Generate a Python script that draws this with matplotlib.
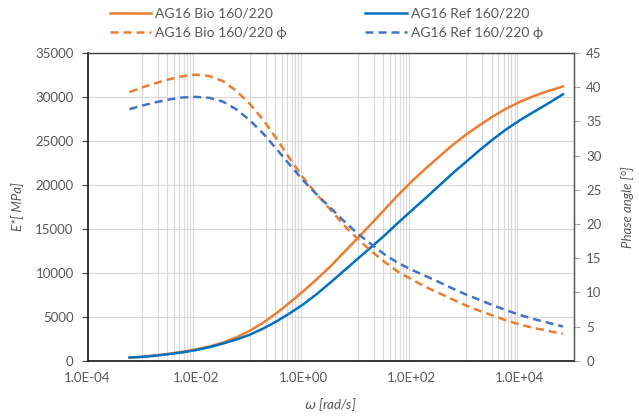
import numpy as np
import matplotlib
matplotlib.use('Agg')
import matplotlib.pyplot as plt
import matplotlib.ticker as ticker

plt.rcParams['font.family'] = ['Lato', 'DejaVu Sans']
plt.rcParams['font.size'] = 9.5

# angular frequency [rad/s]
omega = [6.0e-4, 1.0e-3, 1.8e-3, 3.2e-3, 5.6e-3,
         1.0e-2, 1.8e-2, 3.2e-2, 5.6e-2,
         0.1, 0.18, 0.32, 0.56,
         1.0, 1.8, 3.2, 5.6,
         10, 18, 32, 56,
         100, 180, 320, 560,
         1000, 1800, 3200, 5600,
         1.0e4, 1.8e4, 3.2e4, 4.5e4, 6.3e4]

# complex modulus E* [MPa]
e_bio = [375, 455, 600, 790, 1010,
         1280, 1620, 2060, 2650,
         3400, 4350, 5450, 6650,
         7950, 9350, 10800, 12350,
         13950, 15600, 17250, 18850,
         20400, 21850, 23200, 24500,
         25700, 26800, 27800, 28680,
         29450, 30100, 30650, 30920, 31200]
e_ref = [370, 430, 570, 750, 950,
         1200, 1540, 1950, 2400,
         2950, 3680, 4500, 5420,
         6450, 7650, 8950, 10250,
         11600, 12950, 14300, 15700,
         17100, 18500, 19900, 21270,
         22600, 23950, 25200, 26320,
         27350, 28300, 29200, 29760, 30320]

# phase angle [deg]
ph_bio = [39.3, 39.95, 40.6, 41.15, 41.6,
          41.85, 41.65, 40.9, 39.5,
          37.6, 35.2, 32.4, 29.5,
          26.7, 24.2, 22.0, 19.8,
          17.8, 16.0, 14.4, 13.0,
          11.9, 10.8, 9.9, 9.0,
          8.1, 7.3, 6.6, 5.9,
          5.3, 4.8, 4.4, 4.15, 3.95]
ph_ref = [36.8, 37.3, 37.8, 38.2, 38.5,
          38.6, 38.45, 37.9, 36.8,
          35.2, 33.2, 30.9, 28.6,
          26.3, 24.2, 22.3, 20.4,
          18.6, 17.0, 15.5, 14.3,
          13.3, 12.4, 11.5, 10.6,
          9.7, 8.9, 8.1, 7.4,
          6.7, 6.1, 5.6, 5.3, 5.0]

orange = '#ED7D31'
blue = '#0070C0'
blue2 = '#4472C4'
grey_txt = '#595959'

fig = plt.figure(figsize=(6.39, 4.18), dpi=100)
ax1 = fig.add_axes([0.137, 0.137, 0.761, 0.736])
ax2 = ax1.twinx()

l1, = ax1.plot(omega, e_bio, color=orange, lw=1.8, label='AG16 Bio 160/220')
l3, = ax1.plot(omega, e_ref, color=blue, lw=1.8, label='AG16 Ref 160/220')
l2, = ax2.plot(omega, ph_bio, color=orange, lw=1.8, ls=(0, (3.2, 2.0)),
               label='AG16 Bio 160/220 ϕ')
l4, = ax2.plot(omega, ph_ref, color=blue2, lw=1.8, ls=(0, (3.2, 2.0)),
               label='AG16 Ref 160/220 ϕ')

ax1.set_xscale('log')
ax1.set_xlim(1e-4, 1e5)
ax1.set_ylim(0, 35000)
ax2.set_ylim(0, 45)

ax1.xaxis.set_major_locator(ticker.FixedLocator([1e-4, 1e-2, 1e0, 1e2, 1e4]))
ax1.xaxis.set_major_formatter(ticker.FuncFormatter(lambda v, p: '%.1E' % v))
ax1.xaxis.set_minor_locator(ticker.FixedLocator(
    [k * 10.0**e for e in (-3, -1, 1, 3) for k in range(1, 11)]))
ax1.xaxis.set_minor_formatter(ticker.NullFormatter())
ax1.yaxis.set_major_locator(ticker.MultipleLocator(5000))
ax2.yaxis.set_major_locator(ticker.MultipleLocator(5))

ax1.grid(True, which='minor', axis='x', color='#D9D9D9', lw=0.8)
ax1.grid(True, which='major', axis='y', color='#D9D9D9', lw=0.9)
ax1.set_axisbelow(True)

ax1.tick_params(axis='x', which='both', length=0, colors=grey_txt, pad=8)
ax1.tick_params(axis='y', length=4, color='#404040', labelcolor=grey_txt, pad=6)
ax2.tick_params(axis='y', length=4, color='#A6A6A6', labelcolor=grey_txt, pad=5)

for s in ['left', 'bottom']:
    ax1.spines[s].set_color('#262626')
    ax1.spines[s].set_linewidth(1.3)
ax1.spines['top'].set_color('#404040')
ax1.spines['top'].set_linewidth(1.0)
ax2.spines['right'].set_color('#595959')
ax2.spines['right'].set_linewidth(1.0)
for s in ['left', 'bottom', 'top']:
    ax2.spines[s].set_visible(False)

ax1.set_ylabel('E*[ MPa]', style='italic', color=grey_txt, labelpad=8)
ax2.set_ylabel('Phase angle [°]', style='italic', color=grey_txt, labelpad=14)
ax1.set_xlabel(r'$\omega$ [rad/s]', style='italic', color=grey_txt, labelpad=9)

fig.legend(handles=[l1, l2, l3, l4], loc='upper left', ncol=2,
           bbox_to_anchor=(0.152, 1.012), frameon=False, handlelength=3.0,
           handletextpad=0.3, columnspacing=5.6, labelspacing=0.55,
           fontsize=10, labelcolor=grey_txt)

fig.savefig('out.png', dpi=100)
